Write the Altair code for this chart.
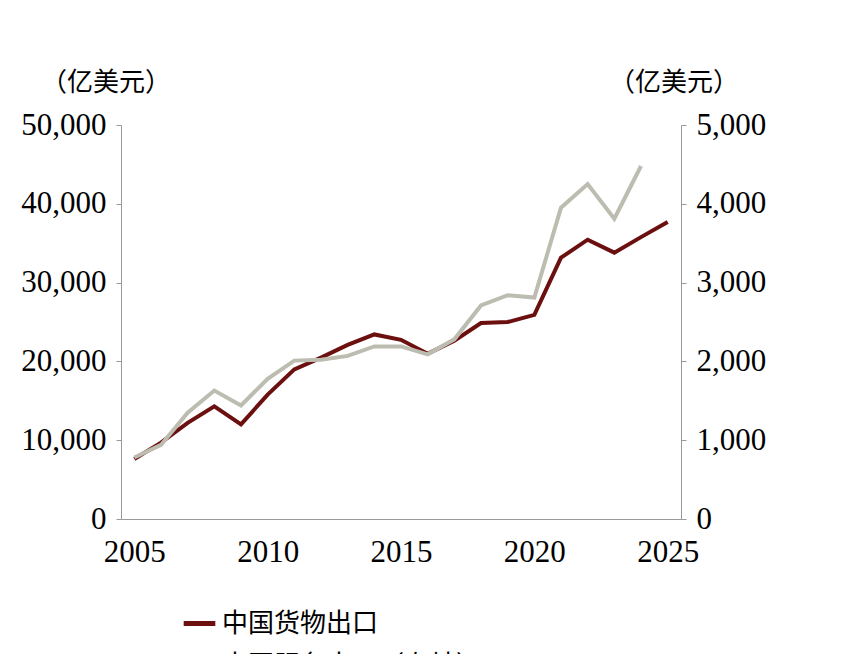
import altair as alt
import pandas as pd

years = list(range(2005, 2026))
goods = [7620, 9690, 12200, 14307, 12016, 15778, 18984, 20487, 22090, 23423, 22735,
         20976, 22633, 24867, 24995, 25900, 33160, 35444, 33800, 35772, 37700]
svc_years = list(range(2005, 2025))
services = [780, 940, 1350, 1630, 1440, 1780, 2010, 2020, 2070, 2190, 2190,
            2090, 2280, 2710, 2840, 2810, 3950, 4250, 3810, 4480]

g_name = "中国货物出口"
s_name = "中国服务出口（右轴）"
df_g = pd.DataFrame({"year": years, "v": goods, "s": g_name})
df_s = pd.DataFrame({"year": svc_years, "v": services, "s": s_name})

FONT = "Liberation Serif, Noto Sans CJK SC"
color = alt.Color("s:N", scale=alt.Scale(domain=[g_name, s_name], range=["#6b0f0f", "#bdbcb0"]),
                  legend=alt.Legend(title=None, orient="none", legendX=60, legendY=480,
                                    symbolType="stroke", symbolStrokeWidth=5, symbolSize=1000,
                                    labelFont="Noto Sans CJK SC", labelFontSize=26,
                                    rowPadding=10, labelLimit=500))
x = alt.X("year:Q", scale=alt.Scale(domain=[2004.5, 2025.5], nice=False),
          axis=alt.Axis(values=[2005, 2010, 2015, 2020, 2025], format="d", title=None,
                        labelFont=FONT, labelFontSize=31, labelColor="black",
                        domainColor="#999", tickSize=0, grid=False, labelPadding=18))
ax = dict(title=None, labelFont=FONT, labelFontSize=31, labelColor="black", domainColor="#999",
          tickColor="#999", tickSize=5, grid=False, tickCount=5, labelPadding=10,
          labelExpr="format(datum.value, ',')")

left = alt.Chart(df_g).mark_line(strokeWidth=4).encode(
    x=x, y=alt.Y("v:Q", scale=alt.Scale(domain=[0, 50000]), axis=alt.Axis(orient="left", **ax)),
    color=color)
right = alt.Chart(df_s).mark_line(strokeWidth=4).encode(
    x=x, y=alt.Y("v:Q", scale=alt.Scale(domain=[0, 5000]), axis=alt.Axis(orient="right", **ax)),
    color=color)
u1 = alt.Chart(pd.DataFrame({"t": ["（亿美元）"]})).mark_text(
    font="Noto Sans CJK SC", fontSize=26, align="center").encode(
    text="t:N", x=alt.value(-15), y=alt.value(-42))
u2 = alt.Chart(pd.DataFrame({"t": ["（亿美元）"]})).mark_text(
    font="Noto Sans CJK SC", fontSize=26, align="center").encode(
    text="t:N", x=alt.value(553), y=alt.value(-42))

chart = alt.layer(left, right, u1, u2).resolve_scale(y="independent").properties(
    width=560, height=394, padding={"top": 62, "left": 12, "right": 10, "bottom": 10}
).configure_view(stroke=None)
chart.save("out.html", embed_options={"renderer": "svg", "actions": False})
